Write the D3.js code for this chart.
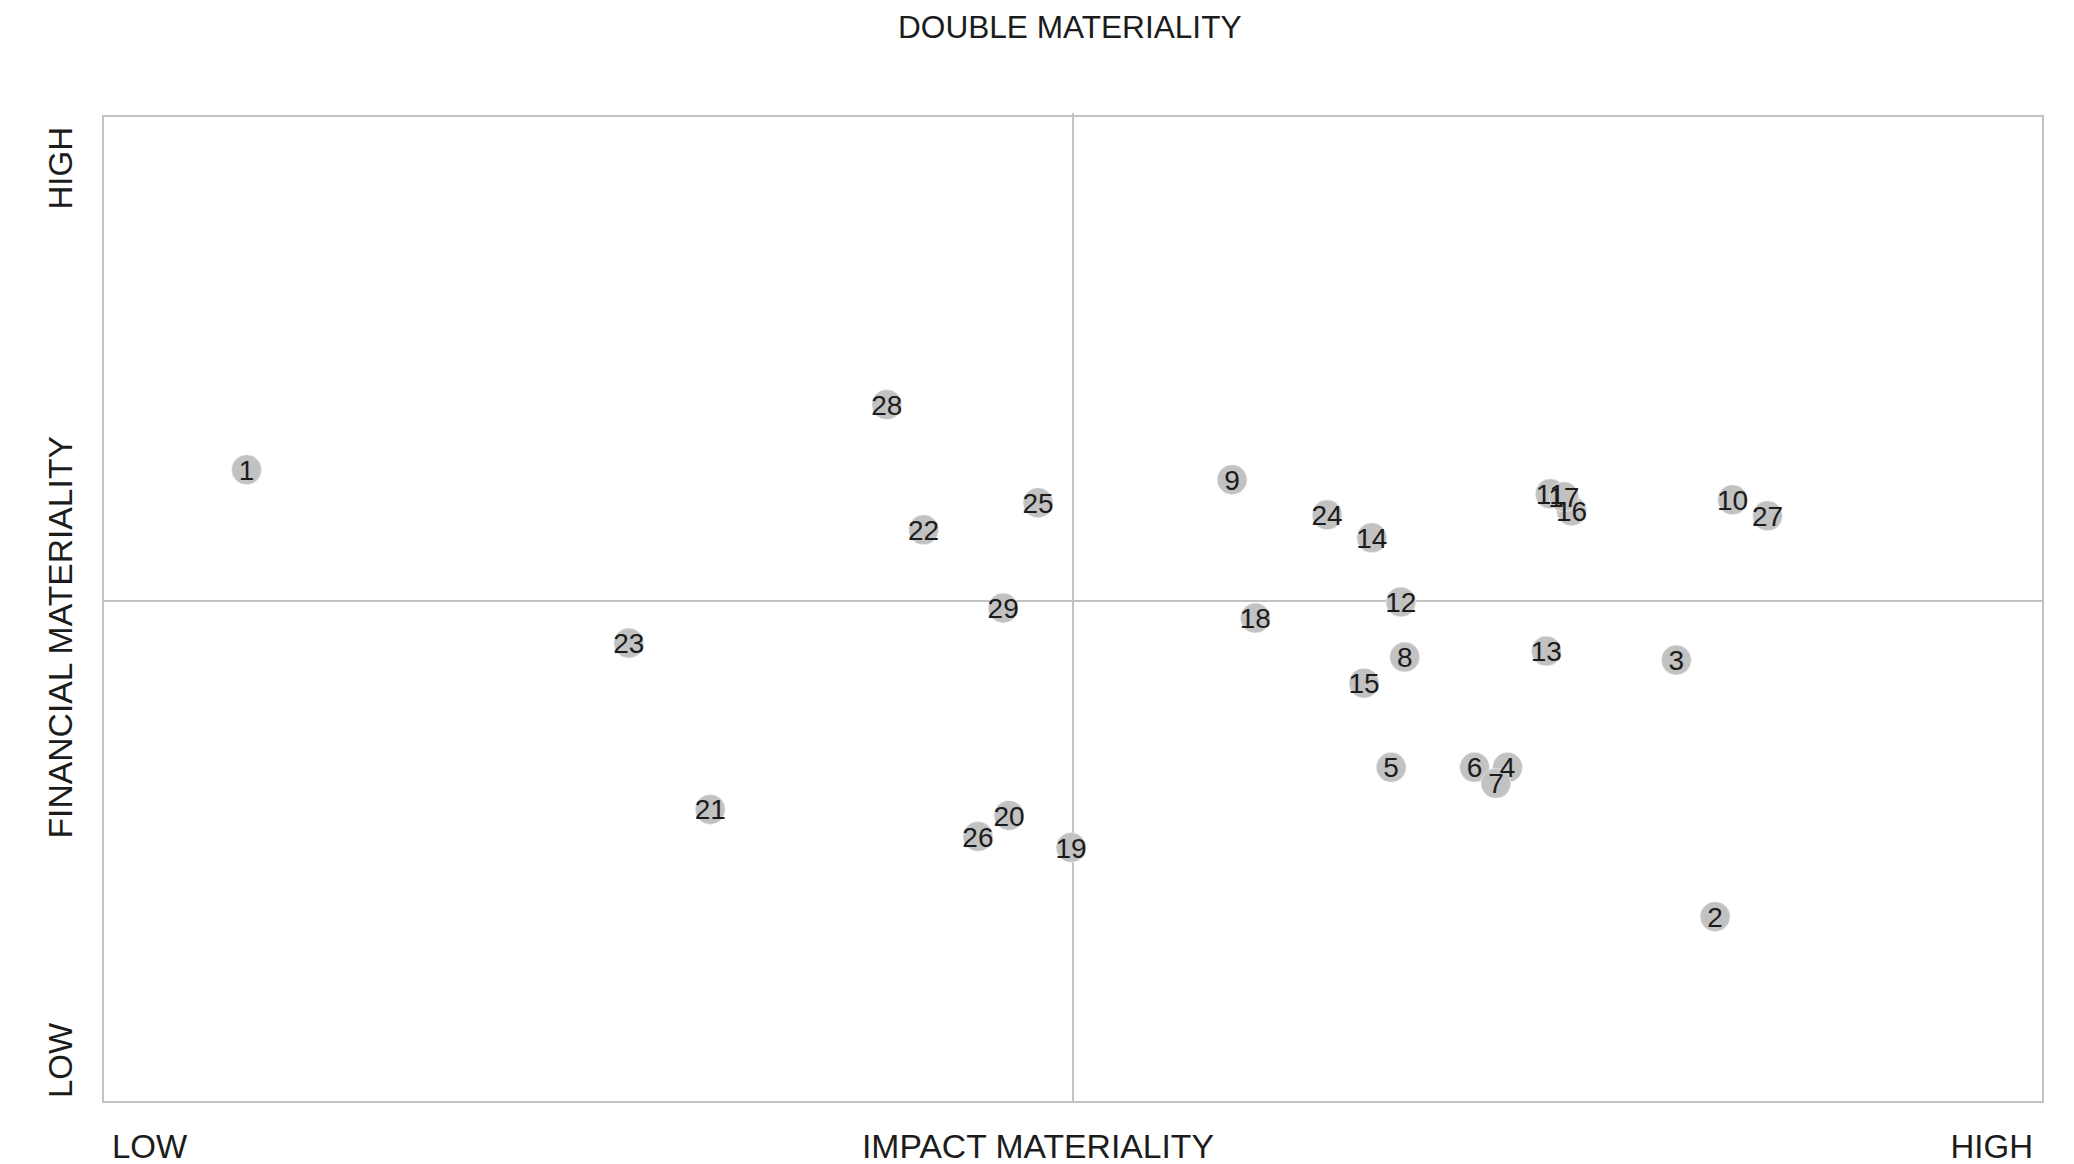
<!DOCTYPE html>
<html>
<head>
<meta charset="utf-8">
<script src="https://cdn.jsdelivr.net/npm/d3@7"></script>
<style>
  html, body { margin: 0; padding: 0; background: #fff; }
  svg { display: block; font-family: "Liberation Sans", Arial, Helvetica, sans-serif; }
</style>
</head>
<body>
<script>
// ---- data ----
const topics = [1,2,3,4,5,6,7,8,9,10,11,12,13,14,15,16,17,18,19,20,21,22,23,24,25,26,27,28,29];
const impact = [0.74,8.31,8.11,7.24,6.64,7.07,7.18,6.71,5.82,8.40,7.46,6.69,7.44,6.54,6.50,7.57,7.53,5.94,4.99,4.67,3.13,4.23,2.71,6.31,4.82,4.51,8.58,4.04,4.64];
const financial = [6.31,1.85,4.41,3.34,3.34,3.34,3.18,4.44,6.21,6.01,6.07,4.99,4.50,5.63,4.18,5.90,6.04,4.83,2.54,2.86,2.92,5.71,4.58,5.86,5.98,2.65,5.85,6.96,4.93];
const xTickLabels = ["LOW", "HIGH"];
const yTickLabels = ["LOW", "HIGH"];
const chartTitle = "DOUBLE MATERIALITY";
const xTitle = "IMPACT MATERIALITY";
const yTitle = "FINANCIAL MATERIALITY";

const points = topics.map((t, i) => ({ id: t, x: impact[i], y: financial[i] }));

// ---- layout ----
(function () {
const W = 2074, H = 1164;
const mLeft = 103, mRight = 2043, mTop = 116, mBottom = 1102;
const x = d3.scaleLinear().domain([0, 10]).range([mLeft, mRight]);
const y = d3.scaleLinear().domain([0, 10]).range([mBottom, 100]);

const svg = d3.select("body").append("svg").attr("width", W).attr("height", H);

const grey = "#c2c2c2";
const textCol = "#1c1c1c";

// title
svg.append("text").attr("x", 898).attr("y", 38)
  .attr("font-size", 31.6).attr("fill", textCol).text(chartTitle);

// frame
svg.append("rect").attr("x", x(0)).attr("y", mTop)
  .attr("width", x(10) - x(0)).attr("height", y(0) - mTop)
  .attr("fill", "none").attr("stroke", grey).attr("stroke-width", 2);

// mid lines
svg.append("line").attr("x1", x(5)).attr("x2", x(5)).attr("y1", mTop - 3).attr("y2", y(0))
  .attr("stroke", grey).attr("stroke-width", 2);
svg.append("line").attr("x1", x(0)).attr("x2", x(10)).attr("y1", y(5)).attr("y2", y(5))
  .attr("stroke", grey).attr("stroke-width", 2);

// x labels
svg.append("text").attr("x", 112).attr("y", 1158).attr("font-size", 33).attr("fill", textCol).text(xTickLabels[0]);
svg.append("text").attr("x", 2033).attr("y", 1158).attr("font-size", 33).attr("fill", textCol)
  .attr("text-anchor", "end").text(xTickLabels[1]);
svg.append("text").attr("x", 862).attr("y", 1158).attr("font-size", 33.7).attr("fill", textCol).text(xTitle);

// y labels (rotated)
function vtext(yy, anchor, str, fs) {
  svg.append("text").attr("transform", `translate(72,${yy}) rotate(-90)`)
    .attr("font-size", fs).attr("fill", textCol).attr("text-anchor", anchor).text(str);
}
vtext(1098, "start", yTickLabels[0], 33);
vtext(127, "end", yTickLabels[1], 33);
vtext(436, "end", yTitle, 33.7);

// circles
svg.append("g").selectAll("circle").data(points).join("circle")
  .attr("cx", d => x(d.x)).attr("cy", d => y(d.y)).attr("r", 15)
  .attr("fill", grey).attr("stroke", "#ffffff").attr("stroke-opacity", 0.6).attr("stroke-width", 0.8);

// labels
svg.append("g").selectAll("text").data(points).join("text")
  .attr("x", d => x(d.x)).attr("y", d => y(d.y)).attr("dy", "0.36em")
  .attr("text-anchor", "middle").attr("font-size", 28).attr("fill", textCol)
  .text(d => d.id);
})();
</script>
</body>
</html>
